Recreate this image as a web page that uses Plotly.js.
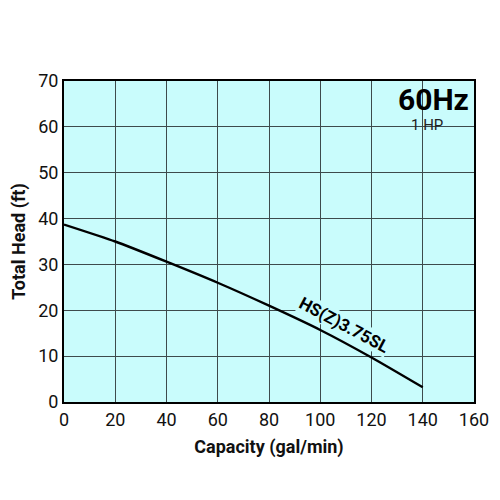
<!DOCTYPE html>
<html>
<head>
<meta charset="utf-8">
<script src="https://cdn.plot.ly/plotly-3.0.1.min.js"></script>
<style>
  html, body { margin: 0; padding: 0; background: #fff; }
  #chart { width: 500px; height: 500px; }
</style>
</head>
<body>
<div id="chart"></div>
<script>
  // pump curve
  const capacity = [0, 20, 40, 60, 80, 100, 120, 140];
  const totalHead = [38.7, 35.0, 30.6, 26.0, 21.0, 15.7, 9.7, 3.2];
  const modelName = "HS(Z)3.75SL";
  const freqLabel = "60Hz";
  const powerLabel = "1 HP";

  const bg = "#c9fcfc";
  const gridColor = "#3d4a4c";
  const tickFont = { family: "Roboto, sans-serif", size: 18, color: "#111" };
  const titleFont = { family: "Roboto, sans-serif", size: 18, color: "#111", weight: "bold" };

  const trace = {
    x: capacity,
    y: totalHead,
    type: "scatter",
    mode: "lines",
    line: { color: "#000", width: 2.4, shape: "spline", smoothing: 0.6 },
    hoverinfo: "skip",
  };

  const layout = {
    width: 500,
    height: 500,
    margin: { t: 81, r: 26, b: 98, l: 64 },
    paper_bgcolor: "#fff",
    plot_bgcolor: bg,
    showlegend: false,
    xaxis: {
      range: [0, 160],
      dtick: 20,
      showgrid: true,
      gridcolor: gridColor,
      gridwidth: 1,
      zeroline: false,
      showline: true,
      mirror: true,
      linecolor: "#000",
      linewidth: 2,
      ticks: "",
      tickfont: tickFont,
      title: { text: "Capacity (gal/min)", font: titleFont, standoff: 12 },
    },
    yaxis: {
      range: [0, 70],
      dtick: 10,
      showgrid: true,
      gridcolor: gridColor,
      gridwidth: 1,
      zeroline: false,
      showline: true,
      mirror: true,
      linecolor: "#000",
      linewidth: 2,
      ticks: "",
      tickfont: tickFont,
      title: { text: "Total Head (ft)", font: titleFont, standoff: 8 },
    },
    shapes: [
      // covers the grid behind the frequency label
      {
        type: "rect", xref: "paper", yref: "paper",
        x0: 0.801, x1: 0.997, y0: 0.835, y1: 0.997,
        fillcolor: bg, line: { width: 0 }, layer: "between",
      },
    ],
    annotations: [
      {
        xref: "paper", yref: "paper", x: 0.99, y: 1.0,
        xanchor: "right", yanchor: "top", borderpad: 0,
        text: freqLabel, showarrow: false,
        font: { family: "Roboto, sans-serif", size: 30, color: "#000", weight: "bold" },
      },
      {
        xref: "paper", yref: "paper", x: 0.886, y: 0.864,
        xanchor: "center", yanchor: "middle", borderpad: 0,
        text: powerLabel, showarrow: false,
        font: { family: "Roboto, sans-serif", size: 15, color: "#222" },
      },
      {
        x: 109.5, y: 16.9,
        text: modelName, showarrow: false,
        textangle: 28,
        bgcolor: bg, borderpad: 0,
        font: { family: "Roboto, sans-serif", size: 17, color: "#000", weight: "bold" },
      },
    ],
  };

  Plotly.newPlot("chart", [trace], layout, { displayModeBar: false, staticPlot: true });
</script>
</body>
</html>
